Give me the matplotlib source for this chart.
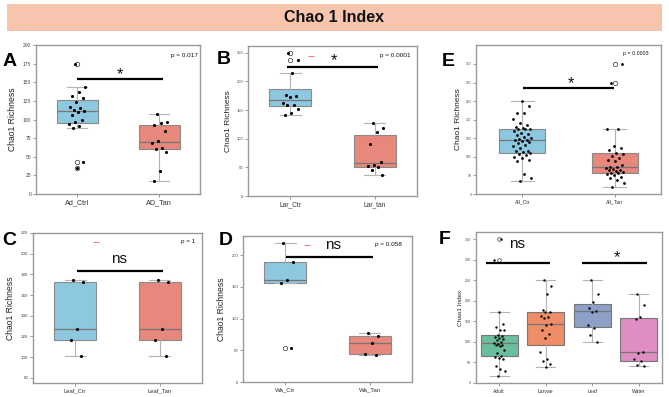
import numpy as np
import matplotlib
matplotlib.use('Agg')
import matplotlib.pyplot as plt
from matplotlib.patches import Rectangle

plt.rcParams['font.family'] = ['Liberation Sans', 'DejaVu Sans']

# ---------------- data ----------------
a_labels = ['Ad_Ctrl', 'AD_Tan']
a_ctrl = [175, 144, 137, 131, 129, 124, 117, 115, 113, 112, 110, 106, 100, 97, 94, 91, 89, 43, 35]
a_tan = [108, 97, 95, 92, 85, 71, 68, 62, 61, 57, 31, 18]
a_p = 'p = 0.017'

b_labels = ['Lar_Ctr', 'Lar_tan']
b_ctrl = [249, 237, 215, 177, 174, 173, 163, 159, 159, 152, 145, 142]
b_tan = [127, 119, 111, 90, 59, 55, 52, 51, 46, 37]
b_p = 'p = 0.0001'

c_labels = ['Leaf_Ctr', 'Leaf_Tan']
c_ctrl = [175, 173, 127, 117, 101]
c_tan = [175, 173, 127, 117, 101]
c_p = 'p = 1'

d_labels = ['Wa_Ctr', 'Wa_Tan']
d_ctrl = [219, 189, 161, 156, 54]
d_tan = [77, 73, 61, 43.5, 42.5]
d_p = 'p = 0.058'

e_labels = ['All_Ctr', 'All_Tan']
e_ctrl = [35, 44, 55, 90, 92, 98, 100, 106, 108, 110, 112, 115, 117, 124, 128, 131, 136, 140, 143, 144,
          146, 148, 151, 154, 159, 162, 165, 170, 174, 174, 175, 177, 180, 186, 190, 202, 217, 218, 238, 251]
e_tan = [19, 30, 38, 43, 45, 50, 54, 56, 57, 58, 62, 64, 65, 67, 69, 72, 74, 78, 89, 92,
         96, 103, 108, 110, 118, 124, 128, 175, 176, 300, 350]
e_p = 'p = 0.0003'

f_labels = ['Adult', 'Larvae', 'Leaf', 'Water']
f_adult = [18, 30, 35, 41, 59, 62, 63, 66, 72, 81, 89, 92, 93, 96, 98, 99, 104, 108, 110, 112,
           115, 117, 128, 130, 137, 145, 173, 300, 350]
f_larvae = [250, 237, 216, 177, 174, 174, 164, 161, 158, 145, 142, 128, 119, 110, 76, 58, 54, 46, 38]
f_leaf = [250, 218, 197, 183, 175, 174, 142, 135, 117, 101]
f_water = [217, 189, 161, 155, 76, 73, 59, 53, 43, 41.5]

# stray red dash marks seen in panels B, C, D (x position, value)
b_red = (1.25, 245)
c_red = (1.25, 211)
d_red = (1.26, 216)

# ---------------- figure ----------------
W, H = 669, 397
fig = plt.figure(figsize=(W / 100, H / 100), dpi=100)

fig.patches.append(Rectangle((7 / W, 1 - 31 / H), 655 / W, 27 / H, transform=fig.transFigure,
                             facecolor='#F7C5AE', edgecolor='none', zorder=0))
fig.text(0.5, 1 - 17.5 / H, 'Chao 1 Index', ha='center', va='center', fontsize=11.5, fontweight='bold',
         family=['Liberation Sans Narrow', 'Liberation Sans', 'DejaVu Sans'], color='#111111')

BLUE = '#8DC8E0'
RED = '#E8877B'
SPINE = '#9a9a9a'


def jit(n, amp):
    k = np.arange(n)
    return amp * (2 * ((k * 0.6180339 + 0.37) % 1.0) - 1)


def panel(rect, groups, labels, colors, ylim, yticks, ylabel, ytick_fs, xtick_fs, ylab_fs, ylab_x,
          width=0.5, pt=5, amp=0.1, edge='#8a8a8a', flier_ms=3.2):
    l, t, r, b = rect
    ax = fig.add_axes([l / W, 1 - b / H, (r - l) / W, (b - t) / H])
    pos = np.arange(1, len(groups) + 1)
    bp = ax.boxplot(groups, positions=pos, widths=width, patch_artist=True, capwidths=width * 0.5,
                    whis=1.5,
                    medianprops=dict(color='#767676', lw=0.9),
                    boxprops=dict(edgecolor=edge, lw=0.8),
                    whiskerprops=dict(color='#b3b3b3', lw=0.8),
                    capprops=dict(color='#b3b3b3', lw=0.8),
                    flierprops=dict(marker='o', markerfacecolor='white', markeredgecolor='#333333',
                                    markersize=flier_ms, markeredgewidth=0.5),
                    zorder=2)
    for p, c in zip(bp['boxes'], colors):
        p.set_facecolor(c)
    for i, g in enumerate(groups):
        ax.scatter(pos[i] + jit(len(g), amp), g, s=pt, c='black', lw=0, zorder=4)
    ax.set_xlim(0.5, len(groups) + 0.5)
    ax.set_ylim(*ylim)
    ax.set_yticks(yticks)
    ax.set_xticks(pos, labels)
    ax.tick_params(axis='y', labelsize=ytick_fs, length=2, width=0.6, color='#888888',
                   labelcolor='#444444', pad=1.5)
    ax.tick_params(axis='x', labelsize=xtick_fs, length=2, width=0.6, color='#888888',
                   labelcolor='#333333', pad=2)
    for s in ax.spines.values():
        s.set_color(SPINE)
        s.set_linewidth(1.0)
    ax.set_ylabel(ylabel, fontsize=ylab_fs, color='#222222')
    ax.yaxis.set_label_coords(ylab_x, 0.5)
    return ax


def sig(ax, x1, x2, y, txt, tx, ty, fs, lw=1.6):
    ax.plot([x1, x2], [y, y], color='black', lw=lw, zorder=5, solid_capstyle='butt')
    ax.text(tx, ty, txt, ha='center', va='center', fontsize=fs, color='#111111', zorder=6)


def ptext(ax, x, y, txt, fs):
    ax.text(x, y, txt, transform=ax.transAxes, ha='right', va='center', fontsize=fs, color='#111111')


def letter(x, y, s):
    fig.text(x / W, 1 - y / H, s, ha='center', va='center', fontsize=14, fontweight='bold')


# Panel A
axA = panel((36, 45, 200, 194), [a_ctrl, a_tan], a_labels, [BLUE, RED], (0, 200),
            np.arange(0, 201, 25), 'Chao1 Richness', 3.5, 5.2, 6.2, -0.115)
sig(axA, 1.0, 2.05, 154.6, '*', 1.52, 160, 12)
ptext(axA, 0.985, 0.93, a_p, 4.6)
letter(10, 61, 'A')

# Panel B
axB = panel((248, 46, 417, 196), [b_ctrl, b_tan], b_labels, [BLUE, RED], (0, 262),
            np.arange(0, 251, 50), 'Chao1 Richness', 3.0, 4.8, 6.0, -0.095)
sig(axB, 0.96, 2.04, 226, '*', 1.52, 236, 12)
axB.plot([b_red[0]], [b_red[1]], marker='_', color='#F08080', ms=4, mew=0.8)
ptext(axB, 0.965, 0.94, b_p, 4.6)
letter(224, 59, 'B')

# Panel E
axE = panel((476, 45, 661, 194), [e_ctrl, e_tan], e_labels, [BLUE, RED], (0, 401),
            np.arange(0, 351, 50), 'Chao1 Richness', 2.3, 3.7, 6.0, -0.075, pt=4)
sig(axE, 1.01, 1.99, 285.6, '*', 1.53, 298, 12)
ptext(axE, 0.935, 0.94, e_p, 3.8)
letter(448, 61, 'E')

# Panel C
axC = panel((33, 233, 202, 383), [c_ctrl, c_tan], c_labels, [BLUE, RED], (75, 220),
            np.arange(80, 221, 20), 'Chao1 Richness', 3.2, 4.2, 6.2, -0.105)
sig(axC, 1.02, 2.04, 183.5, 'ns', 1.52, 195, 11)
axC.plot([c_red[0]], [c_red[1]], marker='_', color='#F08080', ms=4, mew=0.8)
ptext(axC, 0.96, 0.94, c_p, 4.6)
letter(9, 240, 'C')

# Panel D
axD = panel((243, 236, 412, 382), [d_ctrl, d_tan], d_labels, [BLUE, RED], (0, 230),
            np.arange(0, 201, 50), 'Chao1 Richness', 3.0, 4.4, 6.2, -0.10)
sig(axD, 1.01, 2.04, 197, 'ns', 1.56, 216, 11)
axD.plot([d_red[0]], [d_red[1]], marker='_', color='#F08080', ms=4, mew=0.8)
ptext(axD, 0.94, 0.94, d_p, 4.6)
letter(226, 240, 'D')

# Panel F
axF = panel((476, 232, 662, 383), [f_adult, f_larvae, f_leaf, f_water], f_labels,
            ['#69BE9E', '#EE8D67', '#8E9FC8', '#E08DC2'], (0, 368),
            np.arange(0, 351, 50), 'Chao1 Index', 2.5, 3.6, 4.6, -0.07,
            width=0.8, pt=3, amp=0.12, edge='#777777', flier_ms=2.6)
sig(axF, 0.72, 2.09, 292, 'ns', 1.38, 339, 11)
sig(axF, 2.78, 4.18, 292, '*', 3.53, 305, 12)
letter(445, 239, 'F')

fig.savefig('out.png', dpi=100, facecolor='white')
